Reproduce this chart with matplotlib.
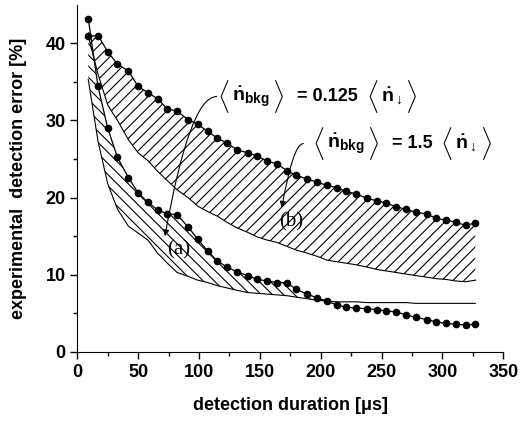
import matplotlib
matplotlib.use("Agg")
import matplotlib.pyplot as plt
from matplotlib.offsetbox import TextArea, HPacker, AnnotationBbox
import numpy as np

plt.rcParams['font.family'] = ['Liberation Sans', 'DejaVu Sans']
plt.rcParams['font.weight'] = 'bold'
plt.rcParams['mathtext.fontset'] = 'custom'
plt.rcParams['mathtext.rm'] = 'Liberation Sans:bold'
plt.rcParams['mathtext.it'] = 'Liberation Sans:bold'
plt.rcParams['mathtext.bf'] = 'Liberation Sans:bold'
plt.rcParams['hatch.linewidth'] = 0.8

# detection duration [us]
duration = [9, 17, 25, 33, 42, 50, 58, 66, 74, 82, 91, 99, 107, 115, 123, 131,
            140, 148, 156, 164, 172, 180, 189, 197, 205, 213, 221, 229, 238, 246,
            254, 262, 270, 278, 287, 295, 303, 311, 319, 327]

# (b): <n_bkg> = 1.5 <n_down>, upper (dotted) and lower bound
b_upper = [40.9, 41.0, 38.9, 37.3, 36.4, 34.4, 33.6, 32.8, 31.5, 31.2, 30.1, 29.5,
           28.6, 27.7, 27.1, 26.2, 25.8, 25.4, 24.7, 24.4, 23.5, 22.9, 22.4, 22.0,
           21.6, 21.3, 20.8, 20.5, 19.9, 19.6, 19.3, 18.8, 18.5, 18.1, 17.9, 17.3,
           17.1, 16.8, 16.4, 16.7]
b_lower = [40.9, 36.0, 32.0, 30.0, 27.5, 25.8, 24.8, 23.4, 22.2, 21.0, 20.0, 18.9,
           18.2, 17.6, 16.8, 16.1, 15.5, 14.9, 14.5, 14.2, 13.7, 13.2, 12.8, 12.4,
           11.9, 11.7, 11.5, 11.3, 11.0, 10.7, 10.5, 10.3, 10.1, 9.9, 9.7, 9.5,
           9.4, 9.2, 9.1, 9.3]

# (a): <n_bkg> = 0.125 <n_down>
a_upper = [43.2, 34.4, 29.0, 25.2, 22.6, 20.6, 19.4, 18.4, 17.9, 17.8, 16.2, 14.6,
           13.1, 11.8, 11.0, 10.4, 9.9, 9.4, 9.2, 9.0, 9.0, 8.1, 7.5, 7.0,
           6.6, 6.1, 5.8, 5.7, 5.6, 5.5, 5.3, 5.2, 4.8, 4.5, 4.2, 3.9,
           3.7, 3.6, 3.5, 3.6]
a_lower = [35.3, 27.3, 21.8, 18.5, 16.3, 15.4, 14.5, 12.8, 11.5, 10.3, 9.8, 9.3,
           9.0, 8.6, 8.3, 8.0, 7.7, 7.6, 7.5, 7.4, 7.3, 7.1, 6.9, 6.7,
           6.6, 6.5, 6.5, 6.5, 6.4, 6.4, 6.4, 6.4, 6.4, 6.3, 6.3, 6.3,
           6.3, 6.3, 6.3, 6.3]

x = np.array(duration)

fig = plt.figure(figsize=(5.27, 4.32), dpi=100)
ax = fig.add_axes([0.1467, 0.1852, 0.8083, 0.804])

# hatched areas
ax.fill_between(x, b_lower, b_upper, facecolor='none', edgecolor='black',
                hatch='///', linewidth=0)
ax.fill_between(x, a_lower, a_upper, where=np.array(a_upper) >= np.array(a_lower),
                interpolate=True, facecolor='none', edgecolor='black',
                hatch='\\\\\\', linewidth=0)

ax.plot(x, b_lower, color='black', lw=0.8)
ax.plot(x, a_lower, color='black', lw=0.8)
ax.plot(x, b_upper, color='black', lw=0.9, marker='o', ms=4.5)
ax.plot(x, a_upper, color='black', lw=0.9, marker='o', ms=4.5)

ax.set_xlim(0, 350)
ax.set_ylim(0, 45)
ax.set_xticks(np.arange(0, 351, 50))
ax.set_xticks(np.arange(25, 350, 50), minor=True)
ax.set_yticks(np.arange(0, 41, 10))
ax.set_yticks(np.arange(5, 45, 10), minor=True)
ax.tick_params(which='major', direction='out', length=5, width=1, labelsize=13)
ax.tick_params(which='minor', direction='out', length=3, width=1)
for s in ['top', 'right']:
    ax.spines[s].set_visible(False)

ax.set_xlabel('detection duration [\u03bcs]', fontsize=13, fontweight='bold', labelpad=12)
ax.set_ylabel('experimental  detection error [%]', fontsize=13, fontweight='bold', labelpad=13)


def bracket_label(factor):
    big = dict(size=19, weight='normal')
    small = dict(size=14, weight='bold')
    parts = [
        TextArea(r'$\langle$', textprops=big),
        TextArea(r'$\dot{n}_{bkg}$', textprops=small),
        TextArea(r'$\rangle$', textprops=big),
        TextArea('  = ' + factor + ' ', textprops=dict(size=13, weight='bold')),
        TextArea(r'$\langle$', textprops=big),
        TextArea(r'$\dot{n}_{\downarrow}$', textprops=small),
        TextArea(r'$\rangle$', textprops=big),
    ]
    return HPacker(children=parts, align='center', pad=0, sep=2)


ax.add_artist(AnnotationBbox(bracket_label('0.125'), (114.8, 33.1), frameon=False,
                             box_alignment=(0, 0.5), pad=0))
ax.add_artist(AnnotationBbox(bracket_label('1.5'), (192.6, 27.0), frameon=False,
                             box_alignment=(0, 0.5), pad=0))

arrow = dict(arrowstyle='-|>', color='black', lw=0.8, mutation_scale=9,
             shrinkA=0, shrinkB=0)
ax.annotate('', xy=(72, 15.0), xytext=(114.5, 33.1),
            arrowprops=dict(arrow, connectionstyle='angle3,angleA=180,angleB=80'))
ax.annotate('', xy=(168, 18.7), xytext=(185.7, 27.0),
            arrowprops=dict(arrow, connectionstyle='angle3,angleA=180,angleB=80'))

ax.text(83, 13.2, '(a)', fontsize=15, family='Liberation Serif', fontweight='normal',
        ha='center', va='center')
ax.text(176, 16.8, '(b)', fontsize=15, family='Liberation Serif', fontweight='normal',
        ha='center', va='center')

fig.savefig('out.png', dpi=100)
